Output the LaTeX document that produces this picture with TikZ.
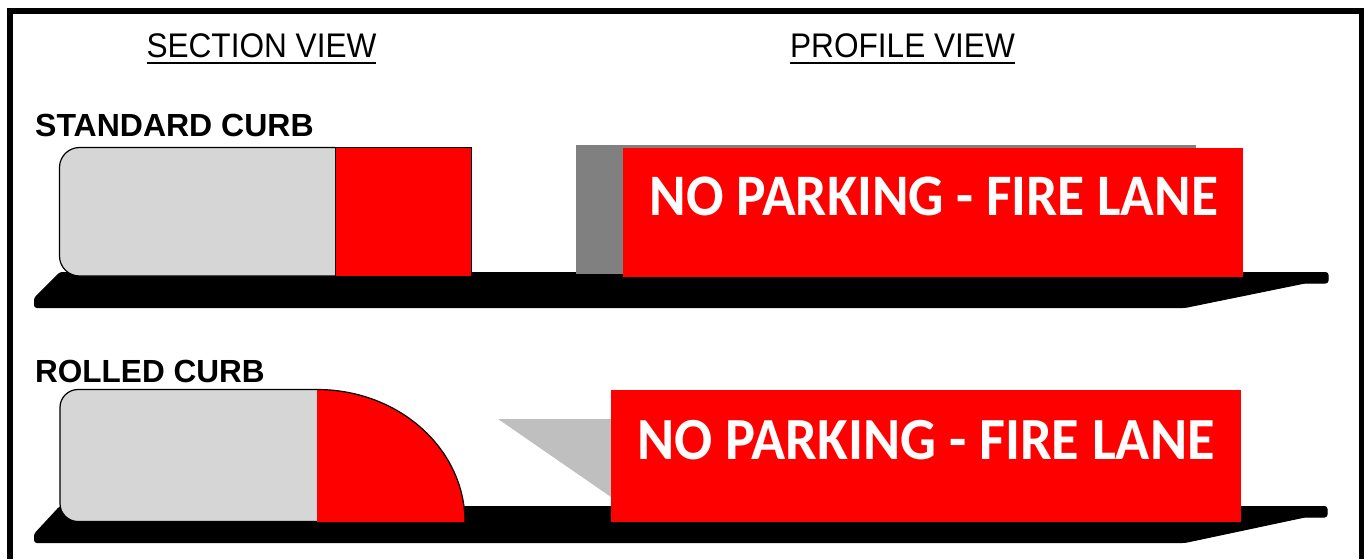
\documentclass[tikz,border=0pt]{standalone}
\usepackage{fontspec}
\setmainfont{Liberation Sans}
\newfontfamily\signfont{Carlito}
\usetikzlibrary{positioning}
\definecolor{curbred}{HTML}{FF0000}
\definecolor{curbgray}{HTML}{D6D6D6}
\definecolor{sidegray}{HTML}{808080}
\definecolor{shadegray}{HTML}{BFBFBF}
\tikzset{
  viewtitle/.style={inner sep=0pt, yscale=1.08, font=\fontsize{31.6}{32}\selectfont},
  curbtitle/.style={inner sep=0pt, anchor=base west, font=\bfseries\fontsize{32}{32}\selectfont},
  signtext/.style={text=white, inner sep=0pt, yscale=1.06, font=\signfont\bfseries\fontsize{55.5}{56}\selectfont},
  slab/.style={fill=black, draw=black, line width=1pt, line join=round},
  outline/.style={draw=black, line width=1.2pt}
}

\begin{document}
\begin{tikzpicture}[x=1pt, y=-1pt]
  \useasboundingbox (0,0) rectangle (1364,559);
  % Frame
  \draw[line width=6.5pt] (10,11) -- (1362,11);
  \draw[line width=6.5pt] (10,8) -- (10,559);
  \draw[line width=6.5pt] (1362,8) -- (1362,559);

  % View titles
  \node[viewtitle] (secview) at (261.5,46) {SECTION VIEW};
  \node[viewtitle] (proview) at (902.5,46) {PROFILE VIEW};
  \draw[line width=1.6pt] (147,63) -- (376,63);
  \draw[line width=1.6pt] (790,63) -- (1015,63);

  % Standard curb
  \node[curbtitle] (stdtitle) at (35,136) {STANDARD CURB};
  \draw[slab, rounded corners=2.5pt] (60,272.5) -- (1328,272.5) -- (1328,283) -- (1305,283) -- (1185,307.5) -- (34.5,307.5) -- (34.5,298) -- cycle;
  \draw[fill=curbgray, outline, rounded corners=20pt] (335,147.5) -- (59.5,147.5) -- (59.5,276) -- (335,276);
  \draw[fill=curbred, outline] (335.5,147.5) rectangle (471.5,276.5);
  \fill[sidegray] (576,145) rectangle (1196,274);
  \fill[curbred] (623,148) rectangle (1243,277);
  \node[signtext] (stdsign) at (934,196.5) {NO PARKING - FIRE LANE};

  % Rolled curb
  \node[curbtitle, xscale=0.985] (rolledtitle) at (35,382) {ROLLED CURB};
  \draw[slab, rounded corners=2.5pt] (60,506.5) -- (1327,506.5) -- (1327,517) -- (1305,517) -- (1185,542.5) -- (34.5,542.5) -- (34.5,534) -- cycle;
  \draw[fill=curbgray, outline, rounded corners=18pt] (317,389.5) -- (60,389.5) -- (60,521.5) -- (317,521.5);
  \fill[curbred] (317,389.5) .. controls (399,389.5) and (465,449) .. (465,522) -- (317,522) -- cycle;
  \draw[outline] (317,389.5) .. controls (399,389.5) and (465,449) .. (465,522);
  \fill[shadegray] (498,419) -- (611,419) -- (611,497) -- cycle;
  \fill[curbred] (611,390) rectangle (1241,522);
  \node[signtext, font=\signfont\bfseries\fontsize{56.4}{57}\selectfont] (rolledsign) at (926,440) {NO PARKING - FIRE LANE};
\end{tikzpicture}
\end{document}
